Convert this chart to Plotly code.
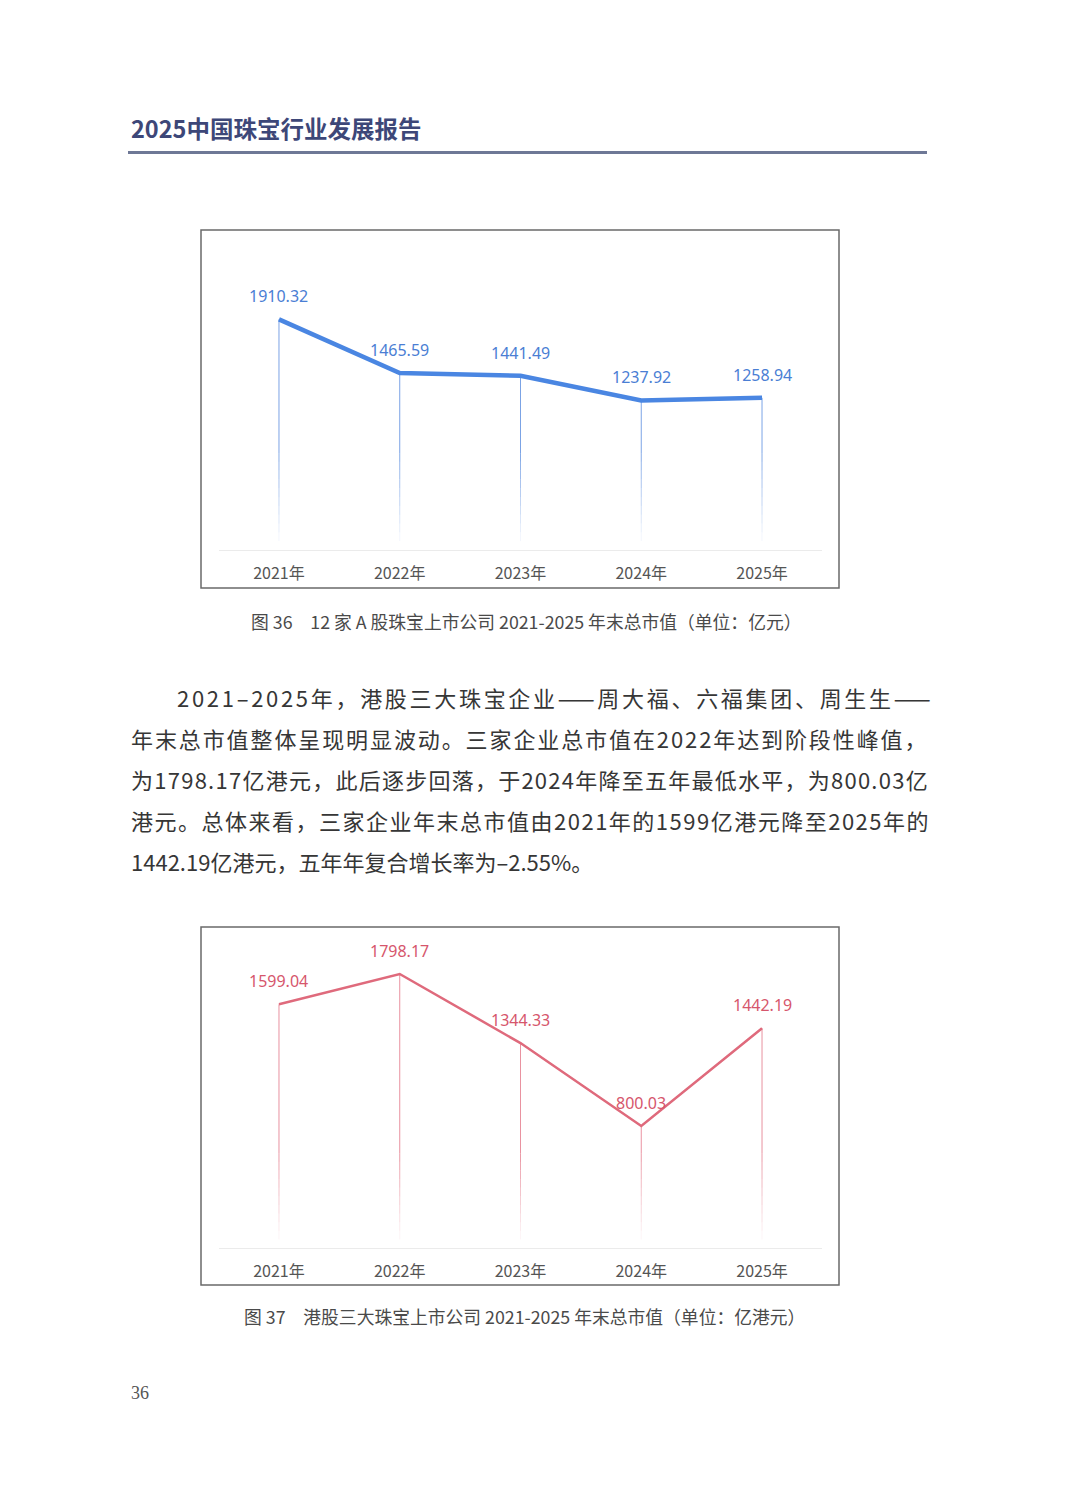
import plotly.graph_objects as go

W, H = 1080, 1501

# ---------------- data ----------------
years = ["2021年", "2022年", "2023年", "2024年", "2025年"]
a_share_values = [1910.32, 1465.59, 1441.49, 1237.92, 1258.94]
hk_values = [1599.04, 1798.17, 1344.33, 800.03, 1442.19]

header_text = "2025中国珠宝行业发展报告"
caption1 = "图 36　12 家 A 股珠宝上市公司 2021-2025 年末总市值（单位：亿元）"
caption2 = "图 37　港股三大珠宝上市公司 2021-2025 年末总市值（单位：亿港元）"
para_lines = [
    "2021–2025年，港股三大珠宝企业——周大福、六福集团、周生生——",
    "年末总市值整体呈现明显波动。三家企业总市值在2022年达到阶段性峰值，",
    "为1798.17亿港元，此后逐步回落，于2024年降至五年最低水平，为800.03亿",
    "港元。总体来看，三家企业年末总市值由2021年的1599亿港元降至2025年的",
    "1442.19亿港元，五年年复合增长率为–2.55%。",
]
page_number = "36"


def px_x(p):
    return p / W


def px_y(p):
    return 1 - p / H


CJK = "Noto Sans CJK SC"

fig = go.Figure()

# chart 1 line
fig.add_trace(go.Scatter(
    x=years, y=a_share_values, mode="lines",
    line=dict(color="#4a86e2", width=4.5),
    xaxis="x", yaxis="y", hoverinfo="skip", showlegend=False,
))
# chart 2 line
fig.add_trace(go.Scatter(
    x=years, y=hk_values, mode="lines",
    line=dict(color="#df6a7c", width=2.5),
    xaxis="x2", yaxis="y2", hoverinfo="skip", showlegend=False,
))

shapes = []
annotations = []


def drop_lines(values, xref, yref, rgb, alpha, bottom, fade_top, nseg=10):
    for i, v in enumerate(values):
        shapes.append(dict(type="line", xref=xref, yref=yref, x0=i, x1=i,
                           y0=fade_top, y1=v, layer="below",
                           line=dict(color=f"rgba({rgb},{alpha})", width=1)))
        step = (fade_top - bottom) / nseg
        for k in range(nseg):
            y0 = bottom + k * step
            y1 = y0 + step
            a = alpha * (k + 1) / (nseg + 1)
            shapes.append(dict(type="line", xref=xref, yref=yref, x0=i, x1=i,
                               y0=y0, y1=y1, layer="below",
                               line=dict(color=f"rgba({rgb},{a:.3f})", width=1)))


drop_lines(a_share_values, "x", "y", "90,140,222", 0.8, 70, 800)
drop_lines(hk_values, "x2", "y2", "226,110,128", 0.75, 55, 620)

for i, v in enumerate(a_share_values):
    annotations.append(dict(x=years[i], y=v, xref="x", yref="y", yshift=23,
                            text=f"{v:.2f}", showarrow=False,
                            font=dict(family="Noto Sans, " + CJK, size=16, color="#4a7ed4")))
for i, v in enumerate(hk_values):
    annotations.append(dict(x=years[i], y=v, xref="x2", yref="y2", yshift=23,
                            text=f"{v:.2f}", showarrow=False,
                            font=dict(family="Noto Sans, " + CJK, size=16, color="#d6566c")))

# chart frames
for top, bottom in [(230, 588), (927, 1285)]:
    shapes.append(dict(type="rect", xref="paper", yref="paper",
                       x0=px_x(201), x1=px_x(839), y0=px_y(bottom), y1=px_y(top),
                       line=dict(color="#6a6a6a", width=1.5), fillcolor="rgba(0,0,0,0)"))

# header
annotations.append(dict(x=px_x(129), y=px_y(128), xref="paper", yref="paper",
                        xanchor="left", yanchor="middle", showarrow=False,
                        text="<b>" + header_text + "</b>",
                        font=dict(family=CJK, size=23.5, color="#3d4778")))
shapes.append(dict(type="line", xref="paper", yref="paper",
                   x0=px_x(128), x1=px_x(927), y0=px_y(152.5), y1=px_y(152.5),
                   line=dict(color="#6e7896", width=3)))

# captions
annotations.append(dict(x=px_x(526), y=px_y(621), xref="paper", yref="paper",
                        xanchor="center", yanchor="middle", showarrow=False,
                        text=caption1, font=dict(family=CJK, size=17.8, color="#4a4a4a")))
annotations.append(dict(x=px_x(524), y=px_y(1316), xref="paper", yref="paper",
                        xanchor="center", yanchor="middle", showarrow=False,
                        text=caption2, font=dict(family=CJK, size=17.8, color="#4a4a4a")))

# paragraph (justified with letter-spacing)
line_y = [697, 738, 779, 820, 861]
line_spacing = [2.7, 1.9, 1.25, 1.5, 0]
for k, (t, yy, ls) in enumerate(zip(para_lines, line_y, line_spacing)):
    x0 = 175 if k == 0 else 129
    txt = f'<span style="letter-spacing:{ls}px">{t}</span>' if ls else t
    annotations.append(dict(x=px_x(x0), y=px_y(yy), xref="paper", yref="paper",
                            xanchor="left", yanchor="middle", showarrow=False,
                            text=txt, font=dict(family=CJK, size=22, color="#363636")))

# page number
annotations.append(dict(x=px_x(129), y=px_y(1393), xref="paper", yref="paper",
                        xanchor="left", yanchor="middle", showarrow=False,
                        text=page_number,
                        font=dict(family="Liberation Serif", size=18, color="#555555")))

xcommon = dict(type="category", categoryorder="array", categoryarray=years,
               range=[-0.5, 4.5], showgrid=False, zeroline=False,
               showline=True, linecolor="#ebebeb", linewidth=1,
               ticks="outside", ticklen=9, tickcolor="rgba(0,0,0,0)",
               tickfont=dict(family=CJK, size=16, color="#555555"),
               fixedrange=True)
ycommon = dict(visible=False, showgrid=False, zeroline=False, fixedrange=True)

xd = [px_x(218.6), px_x(822.4)]

fig.update_layout(
    width=W, height=H,
    margin=dict(l=0, r=0, t=0, b=0),
    paper_bgcolor="white", plot_bgcolor="rgba(0,0,0,0)",
    xaxis=dict(**xcommon, domain=xd, anchor="y"),
    yaxis=dict(**ycommon, domain=[px_y(549.5), px_y(240)],
               range=[0, (549.5 - 240) / 0.12046], anchor="x"),
    xaxis2=dict(**xcommon, domain=xd, anchor="y2"),
    yaxis2=dict(**ycommon, domain=[px_y(1247.8), px_y(935)],
                range=[0, (1247.8 - 935) / 0.15228], anchor="x2"),
    shapes=shapes,
    annotations=annotations,
    showlegend=False,
)

fig.write_html("out.html", config={"displayModeBar": False})
